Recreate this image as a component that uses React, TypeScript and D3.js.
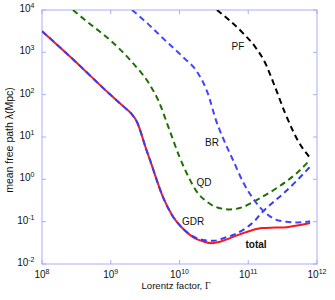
import React, { useEffect, useRef } from "react";
import * as d3 from "d3";

const WIDTH = 335;
const HEIGHT = 300;

// valores em log10: fator de Lorentz (x) e livre caminho medio (y)
const totalLogG = [8.0, 8.5, 9.0, 9.2, 9.3, 9.38, 9.52, 9.57, 9.76, 9.89, 10.04, 10.2, 10.35, 10.47, 10.6, 10.78, 11.02, 11.2, 11.4, 11.56, 11.75, 11.9];
const totalLogL = [3.5, 2.76, 1.99, 1.7, 1.55, 1.36, 0.69, 0.46, -0.42, -0.84, -1.15, -1.37, -1.47, -1.51, -1.47, -1.36, -1.22, -1.15, -1.14, -1.13, -1.08, -1.03];

const gdrLogG = [8.0, 8.5, 9.0, 9.2, 9.3, 9.38, 9.52, 9.57, 9.76, 9.89, 10.04, 10.2, 10.37, 10.5, 10.66, 10.8, 10.95, 11.1, 11.2, 11.35, 11.5, 11.7, 11.9];
const gdrLogL = [3.5, 2.76, 1.99, 1.7, 1.55, 1.36, 0.69, 0.46, -0.42, -0.84, -1.15, -1.35, -1.44, -1.45, -1.38, -1.3, -1.17, -0.97, -0.78, -0.56, -0.35, -0.04, 0.3];

const qdLogG = [8.45, 8.66, 8.99, 9.32, 9.57, 9.69, 9.86, 10.0, 10.13, 10.25, 10.4, 10.56, 10.74, 10.93, 11.12, 11.41, 11.7, 11.9];
const qdLogL = [4.0, 3.72, 3.29, 2.75, 2.23, 1.87, 1.14, 0.53, 0.06, -0.29, -0.53, -0.67, -0.71, -0.65, -0.49, -0.21, 0.14, 0.46];

const brLogG = [9.31, 9.53, 9.78, 10.05, 10.26, 10.41, 10.53, 10.68, 10.78, 10.92, 11.1, 11.27, 11.4, 11.55, 11.72, 11.9];
const brLogL = [4.0, 3.69, 3.3, 2.89, 2.53, 2.04, 1.4, 0.8, 0.45, -0.05, -0.52, -0.82, -0.95, -1.0, -1.02, -0.99];

const pfLogG = [10.545, 10.92, 11.1, 11.24, 11.39, 11.535, 11.78, 11.855, 11.9];
const pfLogL = [4.0, 3.46, 3.13, 2.77, 2.18, 1.57, 0.76, 0.6, 0.5];

const xTickExp = [8, 9, 10, 11, 12];
const yTickExp = [-2, -1, 0, 1, 2, 3, 4];

const App: React.FC = () => {
  const ref = useRef<SVGSVGElement | null>(null);

  useEffect(() => {
    document.body.style.margin = "0";
    if (!ref.current) return;

    const svg = d3.select(ref.current).attr("width", WIDTH).attr("height", HEIGHT);
    svg.selectAll("*").remove();

    const left = 42, right = 317, top = 10, bottom = 264;
    const x = d3.scaleLog().domain([1e8, 1e12]).range([left, right]);
    const y = d3.scaleLog().domain([1e-2, 1e4]).range([bottom, top]);

    const font = "Liberation Sans, Arial, sans-serif";
    const axisColor = "#a9adff";

    svg.append("defs").append("clipPath").attr("id", "plotclip")
      .append("rect").attr("x", left).attr("y", top)
      .attr("width", right - left).attr("height", bottom - top);

    // caixa
    svg.append("rect").attr("x", left).attr("y", top)
      .attr("width", right - left).attr("height", bottom - top)
      .attr("fill", "none").attr("stroke", axisColor).attr("stroke-width", 1);

    // ticks
    xTickExp.forEach((e) => {
      const px = x(10 ** e);
      svg.append("line").attr("x1", px).attr("x2", px).attr("y1", bottom).attr("y2", bottom - 4)
        .attr("stroke", axisColor);
      svg.append("line").attr("x1", px).attr("x2", px).attr("y1", top).attr("y2", top + 4)
        .attr("stroke", axisColor);
      const t = svg.append("text").attr("x", px).attr("y", bottom + 14)
        .attr("text-anchor", "middle").attr("font-family", font).attr("font-size", 10).attr("fill", "#111");
      t.append("tspan").text("10");
      t.append("tspan").attr("dy", -4).attr("font-size", 7).text(String(e));
    });
    yTickExp.forEach((e) => {
      const py = y(10 ** e);
      svg.append("line").attr("x1", left).attr("x2", left + 4).attr("y1", py).attr("y2", py)
        .attr("stroke", axisColor);
      svg.append("line").attr("x1", right).attr("x2", right - 4).attr("y1", py).attr("y2", py)
        .attr("stroke", axisColor);
      const t = svg.append("text").attr("x", 34.5).attr("y", py + 2)
        .attr("text-anchor", "end").attr("font-family", font).attr("font-size", 10).attr("fill", "#111");
      t.append("tspan").text("10");
      t.append("tspan").attr("dy", -4).attr("font-size", 7).text(String(e));
    });

    const line = d3.line<[number, number]>()
      .x((d) => x(10 ** d[0]))
      .y((d) => y(10 ** d[1]))
      .curve(d3.curveMonotoneX);

    const g = svg.append("g").attr("clip-path", "url(#plotclip)");
    const zip = (a: number[], b: number[]) => a.map((v, i) => [v, b[i]] as [number, number]);

    g.append("path").attr("d", line(zip(totalLogG, totalLogL)))
      .attr("fill", "none").attr("stroke", "#f21b1b").attr("stroke-width", 2);
    g.append("path").attr("d", line(zip(gdrLogG, gdrLogL)))
      .attr("fill", "none").attr("stroke", "#3a3aff").attr("stroke-width", 2)
      .attr("stroke-dasharray", "6,4");
    g.append("path").attr("d", line(zip(qdLogG, qdLogL)))
      .attr("fill", "none").attr("stroke", "#1d7000").attr("stroke-width", 2)
      .attr("stroke-dasharray", "6,4");
    g.append("path").attr("d", line(zip(brLogG, brLogL)))
      .attr("fill", "none").attr("stroke", "#4444ff").attr("stroke-width", 2)
      .attr("stroke-dasharray", "6,4");
    g.append("path").attr("d", line(zip(pfLogG, pfLogL)))
      .attr("fill", "none").attr("stroke", "#000").attr("stroke-width", 2)
      .attr("stroke-dasharray", "6,4");

    // rotulos das curvas
    const labels: [string, number, number, string][] = [
      ["PF", 238, 50, "normal"],
      ["BR", 212, 146, "normal"],
      ["QD", 204, 186, "normal"],
      ["GDR", 193, 225, "normal"],
      ["total", 256, 248, "bold"],
    ];
    labels.forEach(([s, lx, ly, w]) => {
      svg.append("text").attr("x", lx).attr("y", ly).attr("text-anchor", "middle")
        .attr("font-family", font).attr("font-size", 10).attr("font-weight", w)
        .attr("fill", "#111").text(s);
    });

    // titulos dos eixos
    const xl = svg.append("text").attr("x", 176).attr("y", 289)
      .attr("text-anchor", "middle").attr("font-family", font).attr("font-size", 9.6).attr("fill", "#111");
    xl.append("tspan").text("Lorentz factor, ");
    xl.append("tspan").attr("font-family", "Liberation Serif, serif").text("Γ");

    svg.append("text").attr("transform", "translate(13,140) rotate(-90)")
      .attr("text-anchor", "middle").attr("font-family", font).attr("font-size", 10.5)
      .attr("fill", "#111").text("mean free path λ(Mpc)");
  }, []);

  return <svg ref={ref} style={{ display: "block" }} />;
};

export default App;
